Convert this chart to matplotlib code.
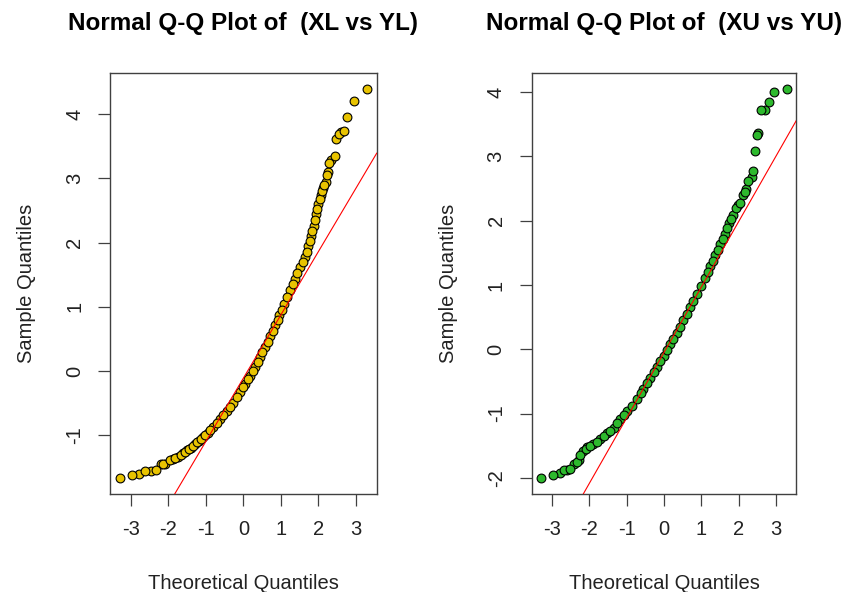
import matplotlib
matplotlib.use('Agg')
import matplotlib.pyplot as plt

plt.rcParams['font.family'] = ['Liberation Sans', 'DejaVu Sans']
plt.rcParams['axes.unicode_minus'] = False

# qqnorm points (theoretical, sample)
theo_xl = [-3.29, -2.96, -2.78, -2.62, -2.47, -2.34, -2.20, -2.15, -2.09, -1.95,
           -1.88, -1.82, -1.75, -1.67, -1.60, -1.55, -1.50, -1.45, -1.40, -1.35,
           -1.29, -1.23, -1.18, -1.12, -1.07, -1.02, -0.95, -0.89, -0.80, -0.71,
           -0.62, -0.53, -0.44, -0.35, -0.27, -0.18, -0.09, 0.00, 0.05, 0.12,
           0.18, 0.25, 0.31, 0.38, 0.45, 0.51, 0.58, 0.65, 0.71, 0.78,
           0.85, 0.91, 0.96, 1.03, 1.09, 1.17, 1.25, 1.31, 1.38, 1.44,
           1.51, 1.58, 1.65, 1.69, 1.73, 1.77, 1.81, 1.84, 1.87, 1.91,
           1.94, 1.97, 2.00, 2.03, 2.06, 2.10, 2.13, 2.16, 2.19, 2.22,
           2.25, 2.28, 2.34, 2.43, 2.46, 2.56, 2.60, 2.67, 2.77, 2.95, 3.29]
samp_xl = [-1.67, -1.61, -1.60, -1.56, -1.55, -1.54, -1.45, -1.45, -1.44, -1.38,
           -1.37, -1.35, -1.33, -1.31, -1.28, -1.26, -1.23, -1.21, -1.19, -1.17,
           -1.13, -1.11, -1.08, -1.05, -1.02, -1.00, -0.96, -0.92, -0.87, -0.81,
           -0.75, -0.69, -0.62, -0.56, -0.49, -0.41, -0.33, -0.25, -0.20, -0.13,
           -0.07, 0.00, 0.07, 0.14, 0.22, 0.30, 0.38, 0.46, 0.54, 0.63,
           0.72, 0.80, 0.87, 0.95, 1.04, 1.15, 1.26, 1.35, 1.44, 1.53,
           1.62, 1.70, 1.78, 1.86, 1.94, 2.02, 2.10, 2.18, 2.25, 2.35,
           2.45, 2.52, 2.60, 2.68, 2.74, 2.80, 2.85, 2.90, 2.94, 3.05,
           3.10, 3.23, 3.28, 3.35, 3.61, 3.69, 3.72, 3.74, 3.95, 4.20, 4.39]

theo_xu = [-3.29, -2.98, -2.80, -2.68, -2.59, -2.52, -2.42, -2.34, -2.28, -2.24,
           -2.16, -2.10, -2.06, -1.98, -1.90, -1.81, -1.72, -1.60, -1.52, -1.44,
           -1.35, -1.26, -1.17, -1.08, -0.98, -0.86, -0.72, -0.62, -0.55, -0.45,
           -0.37, -0.28, -0.19, -0.10, -0.01, 0.08, 0.17, 0.25, 0.34, 0.43,
           0.52, 0.61, 0.70, 0.79, 0.88, 0.99, 1.10, 1.17, 1.24, 1.31,
           1.37, 1.44, 1.51, 1.58, 1.64, 1.70, 1.75, 1.80, 1.86, 1.93,
           1.98, 2.04, 2.11, 2.16, 2.20, 2.26, 2.35, 2.40, 2.44, 2.50,
           2.53, 2.60, 2.71, 2.82, 2.96, 3.29]
samp_xu = [-2.01, -1.95, -1.92, -1.88, -1.88, -1.86, -1.78, -1.76, -1.72, -1.65,
           -1.58, -1.55, -1.52, -1.50, -1.48, -1.44, -1.40, -1.35, -1.30, -1.27,
           -1.22, -1.15, -1.08, -1.03, -0.96, -0.88, -0.77, -0.68, -0.62, -0.52,
           -0.45, -0.36, -0.27, -0.18, -0.10, -0.01, 0.08, 0.16, 0.25, 0.35,
           0.45, 0.55, 0.65, 0.75, 0.86, 0.98, 1.11, 1.20, 1.29, 1.38,
           1.46, 1.55, 1.64, 1.72, 1.80, 1.88, 1.96, 2.02, 2.09, 2.20,
           2.24, 2.27, 2.40, 2.45, 2.50, 2.61, 2.68, 2.77, 3.08, 3.33,
           3.36, 3.72, 3.72, 3.85, 4.01, 4.05]

# qqline: intercept, slope
line_xl = [-0.11, 0.985]
line_xu = [-0.05, 1.017]

titles = ['Normal Q-Q Plot of  (XL vs YL)', 'Normal Q-Q Plot of  (XU vs YU)']
fills = ['#E8C300', '#2DB92D']
x_ticks = [-3, -2, -1, 0, 1, 2, 3]
y_ticks_xl = [-1, 0, 1, 2, 3, 4]
y_ticks_xu = [-2, -1, 0, 1, 2, 3, 4]

panels = [
    (theo_xl, samp_xl, line_xl, y_ticks_xl),
    (theo_xu, samp_xu, line_xu, y_ticks_xu),
]
axes_pos = [[0.1302, 0.1655, 0.3156, 0.7106],
            [0.6290, 0.1655, 0.3136, 0.7106]]

fig = plt.figure(figsize=(8.45, 5.92), dpi=100)

for i, (tx, sy, qline, yt) in enumerate(panels):
    ax = fig.add_axes(axes_pos[i])
    # R draws the points in data order, not sorted -> more edges show through
    order = list(range(0, len(tx), 2)) + list(range(1, len(tx), 2))
    ax.scatter([tx[k] for k in order], [sy[k] for k in order], s=40, c=fills[i],
               edgecolors='black', linewidths=0.8, zorder=2)

    # R style 4% range extension
    xr = max(tx) - min(tx)
    yr = max(sy) - min(sy)
    ax.set_xlim(min(tx) - 0.04 * xr, max(tx) + 0.04 * xr)
    ax.set_ylim(min(sy) - 0.04 * yr, max(sy) + 0.04 * yr)

    ax.axline((0, qline[0]), slope=qline[1], color='red', lw=0.8, zorder=3)

    ax.set_xticks(x_ticks)
    ax.set_yticks(yt)
    ax.set_xticklabels([str(v) for v in x_ticks])
    ax.set_yticklabels([str(v) for v in yt], rotation=90, va='center')
    ax.tick_params(length=8.6, width=0.9, color='#404040', labelsize=14.5,
                   pad=10, labelcolor='#222222')
    for sp in ax.spines.values():
        sp.set_color('#404040')
        sp.set_linewidth(1.0)

    ax.set_title(titles[i], fontsize=17.5, fontweight='bold', pad=31)
    ax.set_xlabel('Theoretical Quantiles', fontsize=14.5, labelpad=25, color='#222222')
    ax.set_ylabel('Sample Quantiles', fontsize=14.5, labelpad=21, color='#222222')

fig.savefig('out.png', dpi=100)
